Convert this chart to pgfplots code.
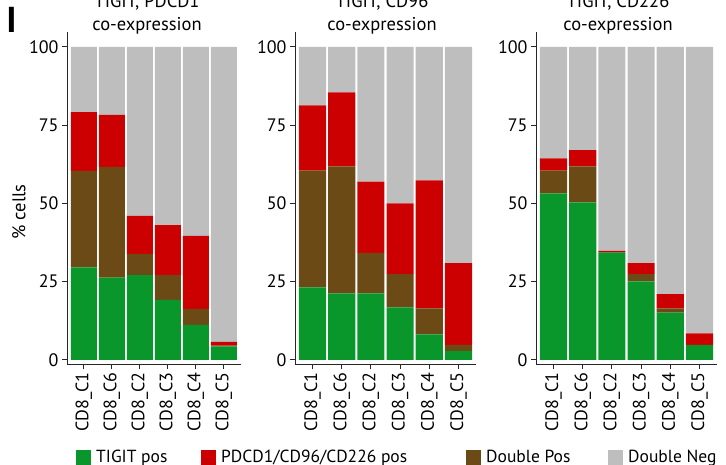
\documentclass[border=0pt]{standalone}
\usepackage{fontspec}
\setmainfont{PT Sans}
\usepackage{pgfplots}
\usepackage{pgfplotstable}
\pgfplotsset{compat=1.18}

\definecolor{tgreen}{RGB}{9,150,42}
\definecolor{tred}{RGB}{204,0,0}
\definecolor{tbrown}{RGB}{107,74,22}
\definecolor{tgrey}{RGB}{190,190,190}

% stacked shares per cluster: g = TIGIT pos, b = double pos, r = PDCD1/CD96/CD226 pos, n = double neg
\pgfplotstableread{
x g b r n
0 29.6 30.8 18.8 20.8
1 26.3 35.3 16.7 21.7
2 27.1 6.8 12.1 54.0
3 19.2 7.9 16.0 56.9
4 11.2 5.1 23.3 60.4
5 4.3 0.3 1.15 94.25
}\pdcdtab

\pgfplotstableread{
x g b r n
0 23.2 37.3 20.8 18.7
1 21.3 40.5 23.7 14.5
2 21.3 12.9 22.8 43.0
3 16.8 10.6 22.6 50.0
4 8.2 8.3 40.9 42.6
5 2.8 2.0 26.1 69.1
}\cdnsixtab

\pgfplotstableread{
x g b r n
0 53.2 7.3 3.9 35.6
1 50.3 11.5 5.2 33.0
2 34.3 0.1 0.4 65.2
3 25.1 2.3 3.5 69.1
4 15.1 1.4 4.5 79.0
5 4.8 0.0 3.7 91.5
}\cdtwotab

\pgfplotsset{
  coexp/.style={
    scale only axis,
    height=331.5pt,
    ybar stacked,
    bar width=0.93,
    ymin=-1.3, ymax=104.6,
    xmin=-0.6, xmax=5.6,
    axis x line=bottom, axis y line=left,
    axis line style={-, line width=0.9pt, black!85},
    tick style={line width=0.9pt, black!85},
    tick align=outside,
    major tick length=5pt,
    ytick={0,25,50,75,100},
    xtick={0,...,5},
    xticklabels={CD8\_C1,CD8\_C6,CD8\_C2,CD8\_C3,CD8\_C4,CD8\_C5},
    x tick label style={rotate=90, anchor=east},
    tick label style={font=\fontsize{18}{18}\selectfont, black},
    /pgf/number format/assume math mode=true,
    every axis plot/.append style={draw=none},
  }
}

\newcommand{\bars}[1]{%
  \addplot[fill=tgreen] table[x=x, y=g] {#1};
  \addplot[fill=tbrown] table[x=x, y=b] {#1};
  \addplot[fill=tred] table[x=x, y=r] {#1};
  \addplot[fill=tgrey] table[x=x, y=n] {#1};
}

\begin{document}
\begin{tikzpicture}[x=1pt, y=1pt]
\path[use as bounding box] (0,0) rectangle (726,-465);

\begin{axis}[coexp, width=173.6pt, at={(67pt,-364pt)}, anchor=south west,
  legend columns=4,
  legend cell align=left,
  legend style={at={(0,0)}, anchor=west, xshift=9pt, yshift=-93pt,
    draw=none, fill=none, inner sep=0pt,
    font=\fontsize{17.5}{17.5}\selectfont,
    nodes={inner sep=0pt},
    /tikz/every odd column/.style={column sep=5pt}},
  ]
  \addlegendimage{legend image code/.code={\fill[tgreen] (0pt,-7.5pt) rectangle (15pt,7.5pt);}}
  \addlegendimage{legend image code/.code={\fill[tred] (0pt,-7.5pt) rectangle (15pt,7.5pt);}}
  \addlegendimage{legend image code/.code={\fill[tbrown] (0pt,-7.5pt) rectangle (15pt,7.5pt);}}
  \addlegendimage{legend image code/.code={\fill[tgrey] (0pt,-7.5pt) rectangle (15pt,7.5pt);}}
  \bars{\pdcdtab}
  \legend{\makebox[105pt][l]{TIGIT pos}, \makebox[245pt][l]{PDCD1/CD96/CD226 pos}, \makebox[122pt][l]{Double Pos}, Double Neg}
\end{axis}

\begin{axis}[coexp, width=181pt, at={(295pt,-364pt)}, anchor=south west]
  \bars{\cdnsixtab}
\end{axis}

\begin{axis}[coexp, width=181pt, at={(536pt,-364pt)}, anchor=south west]
  \bars{\cdtwotab}
\end{axis}

\begin{scope}[every node/.style={anchor=base, font=\fontsize{18.5}{18.5}\selectfont}]
  \node at (147,-8) {TIGIT, PDCD1};
  \node at (147,-31) {co-expression};
  \node at (382,-8) {TIGIT, CD96};
  \node at (382,-31) {co-expression};
  \node at (618,-8) {TIGIT, CD226};
  \node at (618,-31) {co-expression};
\end{scope}

\node[rotate=90, font=\fontsize{18.5}{18.5}\selectfont] at (19,-212) {\% cells};
\node[font=\fontsize{36}{36}\bfseries] at (11.5,-20) {I};
\end{tikzpicture}
\end{document}
